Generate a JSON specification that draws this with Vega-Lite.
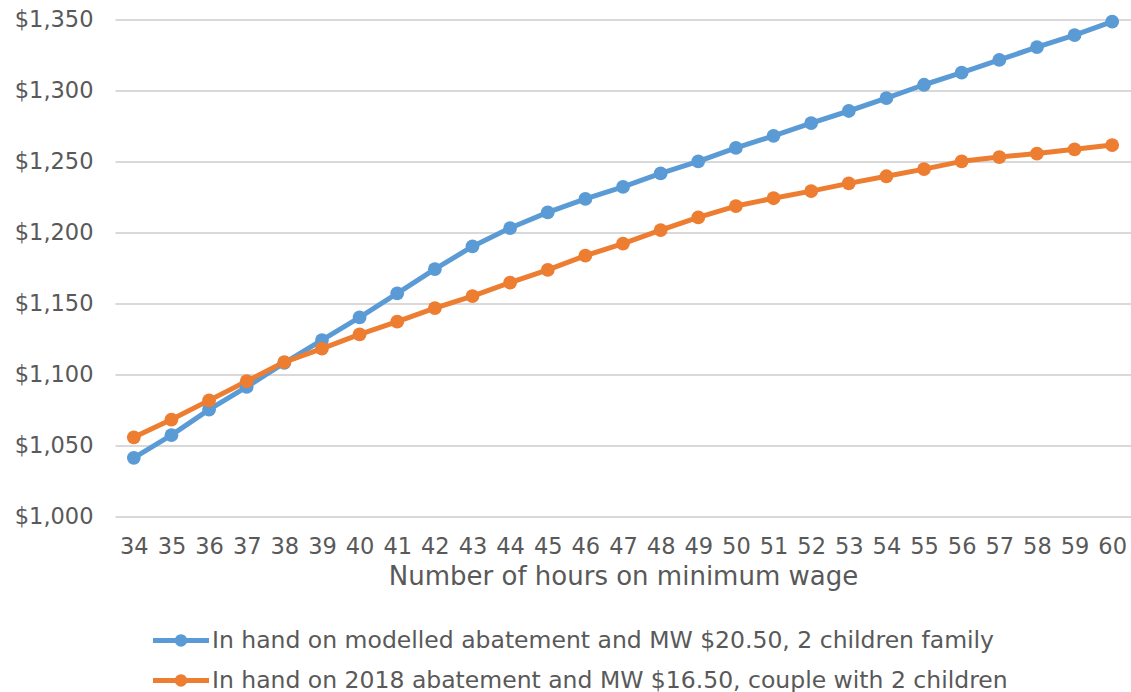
{
  "$schema": "https://vega.github.io/schema/vega-lite/v6.json",
  "width": 1016,
  "height": 496.5,
  "autosize": {"type": "none"},
  "padding": {"left": 115, "top": 19.5, "right": 0, "bottom": 176},
  "background": "white",
  "config": {
    "font": "DejaVu Sans",
    "view": {"stroke": null},
    "axis": {"labelColor": "#595959", "titleColor": "#595959", "labelFont": "DejaVu Sans", "titleFont": "DejaVu Sans"}
  },
  "datasets": {
    "income": [
      {"hours": 34, "series": "In hand on modelled abatement and MW $20.50, 2 children family", "value": 1041},
      {"hours": 35, "series": "In hand on modelled abatement and MW $20.50, 2 children family", "value": 1057},
      {"hours": 36, "series": "In hand on modelled abatement and MW $20.50, 2 children family", "value": 1075},
      {"hours": 37, "series": "In hand on modelled abatement and MW $20.50, 2 children family", "value": 1091},
      {"hours": 38, "series": "In hand on modelled abatement and MW $20.50, 2 children family", "value": 1108},
      {"hours": 39, "series": "In hand on modelled abatement and MW $20.50, 2 children family", "value": 1124},
      {"hours": 40, "series": "In hand on modelled abatement and MW $20.50, 2 children family", "value": 1140},
      {"hours": 41, "series": "In hand on modelled abatement and MW $20.50, 2 children family", "value": 1157},
      {"hours": 42, "series": "In hand on modelled abatement and MW $20.50, 2 children family", "value": 1174},
      {"hours": 43, "series": "In hand on modelled abatement and MW $20.50, 2 children family", "value": 1190},
      {"hours": 44, "series": "In hand on modelled abatement and MW $20.50, 2 children family", "value": 1203},
      {"hours": 45, "series": "In hand on modelled abatement and MW $20.50, 2 children family", "value": 1214},
      {"hours": 46, "series": "In hand on modelled abatement and MW $20.50, 2 children family", "value": 1223.5},
      {"hours": 47, "series": "In hand on modelled abatement and MW $20.50, 2 children family", "value": 1232},
      {"hours": 48, "series": "In hand on modelled abatement and MW $20.50, 2 children family", "value": 1241.5},
      {"hours": 49, "series": "In hand on modelled abatement and MW $20.50, 2 children family", "value": 1250},
      {"hours": 50, "series": "In hand on modelled abatement and MW $20.50, 2 children family", "value": 1259.5},
      {"hours": 51, "series": "In hand on modelled abatement and MW $20.50, 2 children family", "value": 1268},
      {"hours": 52, "series": "In hand on modelled abatement and MW $20.50, 2 children family", "value": 1277},
      {"hours": 53, "series": "In hand on modelled abatement and MW $20.50, 2 children family", "value": 1285.5},
      {"hours": 54, "series": "In hand on modelled abatement and MW $20.50, 2 children family", "value": 1294.5},
      {"hours": 55, "series": "In hand on modelled abatement and MW $20.50, 2 children family", "value": 1304},
      {"hours": 56, "series": "In hand on modelled abatement and MW $20.50, 2 children family", "value": 1312.5},
      {"hours": 57, "series": "In hand on modelled abatement and MW $20.50, 2 children family", "value": 1321.5},
      {"hours": 58, "series": "In hand on modelled abatement and MW $20.50, 2 children family", "value": 1330.5},
      {"hours": 59, "series": "In hand on modelled abatement and MW $20.50, 2 children family", "value": 1339},
      {"hours": 60, "series": "In hand on modelled abatement and MW $20.50, 2 children family", "value": 1348.5},
      {"hours": 34, "series": "In hand on 2018 abatement and MW $16.50, couple with 2 children", "value": 1055.5},
      {"hours": 35, "series": "In hand on 2018 abatement and MW $16.50, couple with 2 children", "value": 1068},
      {"hours": 36, "series": "In hand on 2018 abatement and MW $16.50, couple with 2 children", "value": 1081.5},
      {"hours": 37, "series": "In hand on 2018 abatement and MW $16.50, couple with 2 children", "value": 1095},
      {"hours": 38, "series": "In hand on 2018 abatement and MW $16.50, couple with 2 children", "value": 1108.5},
      {"hours": 39, "series": "In hand on 2018 abatement and MW $16.50, couple with 2 children", "value": 1118},
      {"hours": 40, "series": "In hand on 2018 abatement and MW $16.50, couple with 2 children", "value": 1128},
      {"hours": 41, "series": "In hand on 2018 abatement and MW $16.50, couple with 2 children", "value": 1137},
      {"hours": 42, "series": "In hand on 2018 abatement and MW $16.50, couple with 2 children", "value": 1146.5},
      {"hours": 43, "series": "In hand on 2018 abatement and MW $16.50, couple with 2 children", "value": 1155},
      {"hours": 44, "series": "In hand on 2018 abatement and MW $16.50, couple with 2 children", "value": 1164.5},
      {"hours": 45, "series": "In hand on 2018 abatement and MW $16.50, couple with 2 children", "value": 1173.5},
      {"hours": 46, "series": "In hand on 2018 abatement and MW $16.50, couple with 2 children", "value": 1183.5},
      {"hours": 47, "series": "In hand on 2018 abatement and MW $16.50, couple with 2 children", "value": 1192},
      {"hours": 48, "series": "In hand on 2018 abatement and MW $16.50, couple with 2 children", "value": 1201.5},
      {"hours": 49, "series": "In hand on 2018 abatement and MW $16.50, couple with 2 children", "value": 1210.5},
      {"hours": 50, "series": "In hand on 2018 abatement and MW $16.50, couple with 2 children", "value": 1218.5},
      {"hours": 51, "series": "In hand on 2018 abatement and MW $16.50, couple with 2 children", "value": 1224},
      {"hours": 52, "series": "In hand on 2018 abatement and MW $16.50, couple with 2 children", "value": 1229},
      {"hours": 53, "series": "In hand on 2018 abatement and MW $16.50, couple with 2 children", "value": 1234.5},
      {"hours": 54, "series": "In hand on 2018 abatement and MW $16.50, couple with 2 children", "value": 1239.5},
      {"hours": 55, "series": "In hand on 2018 abatement and MW $16.50, couple with 2 children", "value": 1244.5},
      {"hours": 56, "series": "In hand on 2018 abatement and MW $16.50, couple with 2 children", "value": 1250},
      {"hours": 57, "series": "In hand on 2018 abatement and MW $16.50, couple with 2 children", "value": 1253},
      {"hours": 58, "series": "In hand on 2018 abatement and MW $16.50, couple with 2 children", "value": 1255.5},
      {"hours": 59, "series": "In hand on 2018 abatement and MW $16.50, couple with 2 children", "value": 1258.5},
      {"hours": 60, "series": "In hand on 2018 abatement and MW $16.50, couple with 2 children", "value": 1261.5}
    ]
  },
  "data": {"name": "income"},
  "encoding": {
    "x": {
      "field": "hours",
      "type": "ordinal",
      "scale": {"type": "point", "padding": 0.5},
      "axis": {
        "title": "Number of hours on minimum wage",
        "labelAngle": 0,
        "labelFontSize": 22.5,
        "labelPadding": 19,
        "titleFontSize": 26,
        "titleFontWeight": "normal",
        "titlePadding": 6,
        "ticks": false,
        "domain": false,
        "grid": false
      }
    },
    "y": {
      "field": "value",
      "type": "quantitative",
      "scale": {"domain": [1000, 1350], "nice": false, "zero": false},
      "axis": {
        "title": null,
        "values": [1000, 1050, 1100, 1150, 1200, 1250, 1300, 1350],
        "format": "$,.0f",
        "labelFontSize": 22.5,
        "labelPadding": 22,
        "ticks": false,
        "domain": false,
        "gridColor": "#D9D9D9",
        "gridWidth": 2
      }
    },
    "color": {
      "field": "series",
      "type": "nominal",
      "sort": [
        "In hand on modelled abatement and MW $20.50, 2 children family",
        "In hand on 2018 abatement and MW $16.50, couple with 2 children"
      ],
      "scale": {
        "domain": [
          "In hand on modelled abatement and MW $20.50, 2 children family",
          "In hand on 2018 abatement and MW $16.50, couple with 2 children"
        ],
        "range": ["#5B9BD5", "#ED7D31"]
      },
      "legend": {
        "title": null,
        "orient": "none",
        "legendX": 38,
        "legendY": 601,
        "direction": "vertical",
        "symbolType": "M-1,-0.09 H1 V0.09 H-1 Z M-0.22,0 A0.22,0.22 0 1,1 0.22,0 A0.22,0.22 0 1,1 -0.22,0 Z",
        "symbolSize": 3136,
        "symbolStrokeWidth": 0,
        "symbolOpacity": 1,
        "labelFont": "DejaVu Sans",
        "labelFontSize": 23.5,
        "labelColor": "#595959",
        "labelOffset": 3,
        "labelLimit": 1000,
        "clipHeight": 40,
        "rowPadding": 0
      }
    }
  },
  "layer": [
    {"mark": {"type": "line", "strokeWidth": 5, "strokeCap": "round", "strokeJoin": "round"}},
    {"mark": {"type": "point", "filled": true, "size": 190, "opacity": 1, "shape": "circle"}}
  ]
}
